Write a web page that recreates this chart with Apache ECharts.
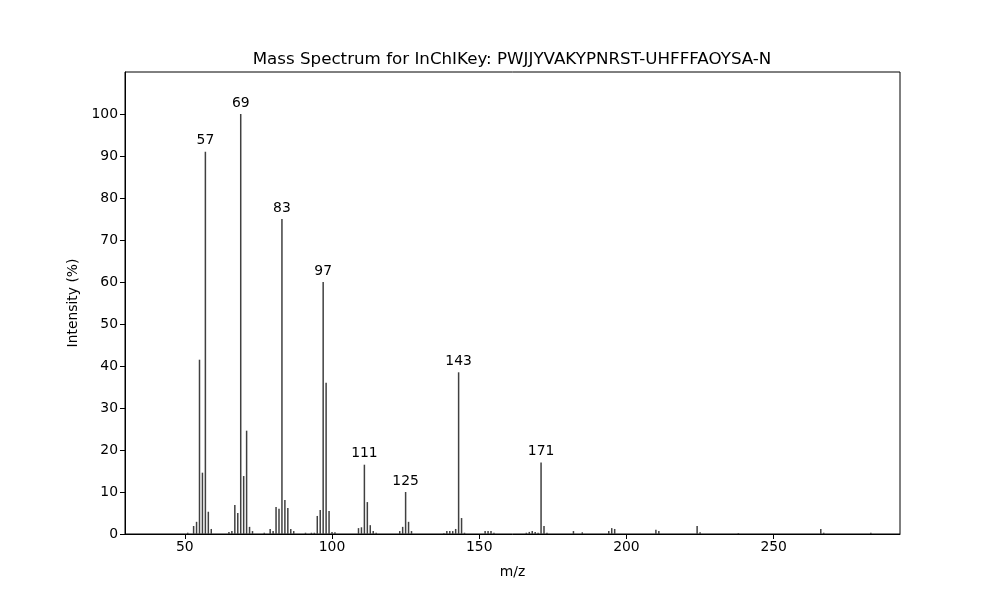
<!DOCTYPE html>
<html><head><meta charset="utf-8">
<script src="https://cdn.jsdelivr.net/npm/echarts@6/dist/echarts.min.js"></script>
<style>html,body{margin:0;padding:0;background:#fff}#c{width:1000px;height:600px}</style>
</head><body><div id="c"></div>
<script>
const mz = [51,53,54,55,56,57,58,59,65,66,67,68,69,70,71,72,73,77,79,80,81,82,83,84,85,86,87,91,93,94,95,96,97,98,99,100,101,109,110,111,112,113,114,115,123,124,125,126,127,138,139,140,141,142,143,144,145,152,153,154,155,166,167,168,169,170,171,172,173,182,185,194,195,196,210,211,224,225,238,266,267,283];
const intensity = [0.3,1.9,2.9,41.5,14.6,91,5.3,1.2,0.5,0.7,6.9,5.0,100,13.8,24.6,1.7,0.7,0.3,1.2,0.7,6.4,6.0,75,8.1,6.2,1.2,0.7,0.3,0.3,0.3,4.3,5.7,60,36.0,5.5,0.5,0.4,1.4,1.6,16.5,7.6,2.1,0.7,0.3,0.7,1.7,10.0,2.9,0.7,0.2,0.7,0.7,0.7,1.2,38.5,3.8,0.3,0.7,0.7,0.7,0.3,0.3,0.5,0.7,0.5,0.3,17.0,1.9,0.3,0.7,0.4,0.7,1.4,1.2,1.0,0.7,1.9,0.4,0.2,1.2,0.3,0.3];
const labeledPeaks = [57,69,83,97,111,125,143,171];
const xTicks = [50,100,150,200,250];
const yTicks = [0,10,20,30,40,50,60,70,80,90,100];
const titleText = 'Mass Spectrum for InChIKey: PWJJYVAKYPNRST-UHFFFAOYSA-N';

const font = 'DejaVu Sans';
const data = mz.map((m,i)=>{
  const item = {value:[m,intensity[i]]};
  if (labeledPeaks.includes(m)) item.label = {show:true,position:'top',distance:4,formatter:String(m),color:'#000',fontSize:13.9,fontFamily:font};
  return item;
});
const chart = echarts.init(document.getElementById('c'),null,{renderer:'canvas'});
chart.setOption({
  animation:false,
  title:{text:titleText,left:507,top:46,textAlign:'center',textStyle:{fontFamily:font,fontSize:16.7,fontWeight:'normal',color:'#000'}},
  grid:{left:125,right:100,top:72,bottom:66,show:true,borderColor:'#000',borderWidth:1},
  xAxis:{type:'value',min:29.7,max:292.9,name:'m/z',nameLocation:'middle',nameGap:31,
    nameTextStyle:{fontFamily:font,fontSize:13.9,color:'#000'},
    splitLine:{show:false},
    axisLine:{lineStyle:{color:'#000'}},
    axisTick:{customValues:xTicks,length:5,lineStyle:{color:'#000'}},
    axisLabel:{customValues:xTicks,fontFamily:font,fontSize:13.9,color:'#000',margin:6}},
  yAxis:{type:'value',min:0,max:110,name:'Intensity (%)',nameLocation:'middle',nameGap:43,nameRotate:90,
    nameTextStyle:{fontFamily:font,fontSize:13.9,color:'#000'},
    splitLine:{show:false},
    axisLine:{show:true,lineStyle:{color:'#000'}},
    axisTick:{show:true,customValues:yTicks,length:5,lineStyle:{color:'#000'}},
    axisLabel:{customValues:yTicks,fontFamily:font,fontSize:13.9,color:'#000',margin:7}},
  series:[{type:'bar',data:data,barWidth:1.5,itemStyle:{color:'#404040'},barGap:'-100%'}]
});
</script></body></html>
